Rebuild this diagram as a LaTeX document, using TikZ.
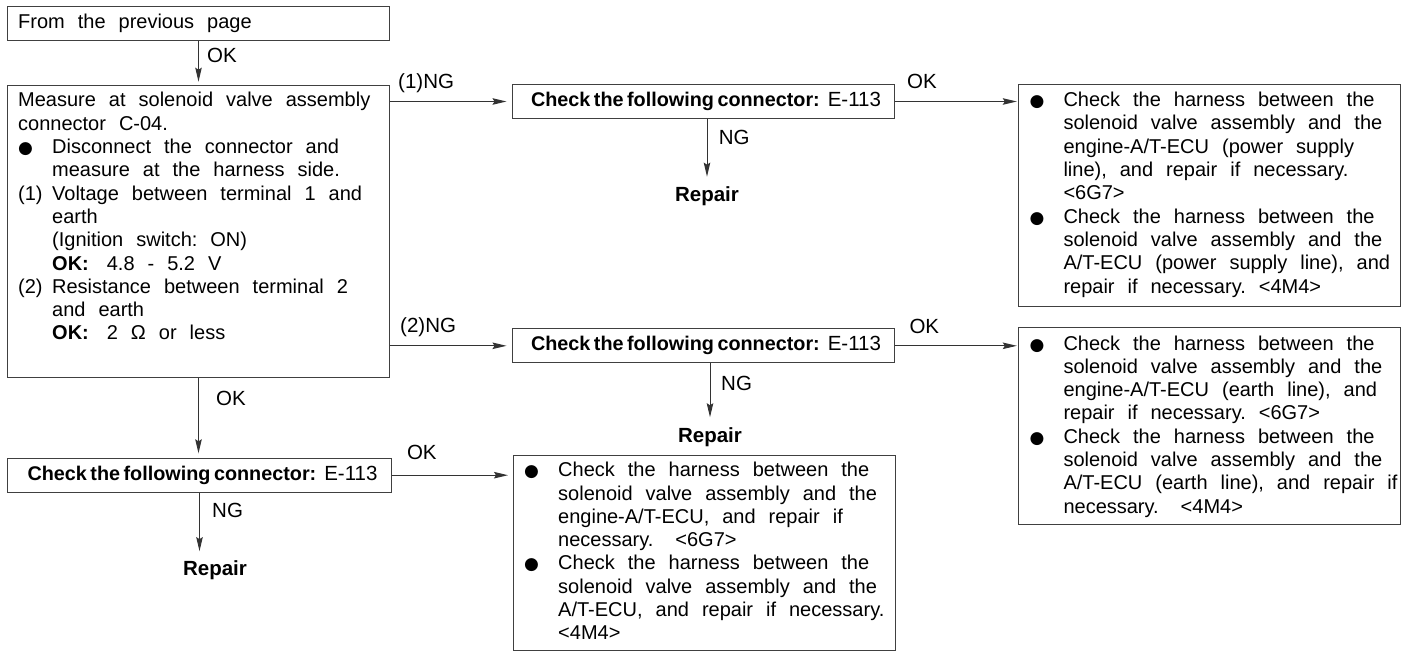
\documentclass[tikz,border=0pt]{standalone}
\usepackage{fontspec}
\setmainfont{Liberation Sans}
\newfontfamily\dejavu{DejaVu Sans}
\usetikzlibrary{arrows.meta,calc}
\newcommand{\bigdot}{{\dejavu\fontsize{17}{17}\selectfont ●}}
\newcommand{\hng}[1]{\makebox[34pt][l]{#1}}
\newcommand{\ind}{\hspace*{34pt}}
\newcommand{\boxtext}[1]{\parbox[t]{420pt}{\fontsize{20}{23.3}\selectfont\spaceskip=13pt\relax\xspaceskip=13pt\relax\raggedright #1}}
\newcommand{\chktext}{\hspace*{6pt}{\fontsize{19.8}{23}\selectfont\bfseries\spaceskip=3.5pt\relax Check the following connector:}\hspace{8pt}E-113}
\begin{document}
\begin{tikzpicture}[x=1pt,y=-1pt,
  box/.style={draw=black!75, line width=1pt, inner sep=0pt, anchor=north west},
  chk/.style={box, minimum width=382pt, minimum height=34pt, font={\fontsize{20.5}{23}\selectfont}},
  txt/.style={anchor=base west, inner sep=0pt},
  lbl/.style={anchor=base west, inner sep=0pt, font={\fontsize{20.5}{23}\selectfont}},
  rep/.style={anchor=base, inner sep=0pt, font={\fontsize{20.5}{24}\selectfont\bfseries}},
  arr/.style={draw=black!80, line width=1pt, -{Stealth[length=14pt,width=6.5pt,inset=2pt]}}]
\useasboundingbox (0,0) rectangle (1403,652);

% boxes
\node[box, minimum width=382pt, minimum height=34pt] (from) at (7,6) {};
\node[txt] (fromT) at ($(from.north west)+(11,23)$) {\boxtext{From the previous page}};

\node[box, minimum width=382pt, minimum height=292pt] (main) at (7,85) {};
\node[txt] (mainT) at ($(main.north west)+(11,22)$) {\boxtext{%
Measure at solenoid valve assembly\\
connector C-04.\\
\hng{\bigdot}Disconnect the connector and\\
\ind measure at the harness side.\\
\hng{(1)}Voltage between terminal 1 and\\
\ind earth\\
\ind (Ignition switch: ON)\\
\ind\textbf{OK:}\hspace{18pt}4.8 - 5.2 V\\
\hng{(2)}Resistance between terminal 2\\
\ind and earth\\
\ind\textbf{OK:}\hspace{18pt}2 Ω or less}};

\node[chk] (chk1) at (511.5,84) {\chktext};
\node[chk] (chk2) at (511.5,328.3) {\chktext};
\node[chk, minimum width=383.4pt] (chk3) at (7.3,457.7) {\chktext};

\node[rep] (rep1) at (707,201.7) {Repair};
\node[rep] (rep2) at (710,442.3) {Repair};
\node[rep] (rep3) at (215,575.7) {Repair};

\node[box, minimum width=381.7pt, minimum height=222pt] (right1) at (1018.3,84) {};
\node[txt] (right1T) at ($(right1.north west)+(11,22.7)$) {\boxtext{%
\hng{\bigdot}Check the harness between the\\
\ind solenoid valve assembly and the\\
\ind engine-A/T-ECU (power supply\\
\ind line), and repair if necessary.\\
\ind <6G7>\\
\hng{\bigdot}Check the harness between the\\
\ind solenoid valve assembly and the\\
\ind A/T-ECU (power supply line), and\\
\ind repair if necessary. <4M4>}};

\node[box, minimum width=381.7pt, minimum height=196.7pt] (right2) at (1018.3,327.3) {};
\node[txt] (right2T) at ($(right2.north west)+(11,22.7)$) {\boxtext{%
\hng{\bigdot}Check the harness between the\\
\ind solenoid valve assembly and the\\
\ind engine-A/T-ECU (earth line), and\\
\ind repair if necessary. <6G7>\\
\hng{\bigdot}Check the harness between the\\
\ind solenoid valve assembly and the\\
\ind A/T-ECU (earth line), and repair if\\
\ind necessary.\hspace{22pt}<4M4>}};

\node[box, minimum width=382pt, minimum height=194.5pt] (bottom) at (513,455) {};
\node[txt] (bottomT) at ($(bottom.north west)+(11,21.7)$) {\boxtext{%
\hng{\bigdot}Check the harness between the\\
\ind solenoid valve assembly and the\\
\ind engine-A/T-ECU, and repair if\\
\ind necessary.\hspace{22pt}<6G7>\\
\hng{\bigdot}Check the harness between the\\
\ind solenoid valve assembly and the\\
\ind A/T-ECU, and repair if necessary.\\
\ind <4M4>}};

% connectors
\draw[arr, shorten >=3.3pt] (from.south) -- (from.south |- main.north);
\draw[arr, shorten >=5pt] (main.east |- chk1.west) -- (chk1.west);
\draw[arr, shorten >=10pt] (chk1.south -| rep1.north) -- (rep1.north);
\draw[arr, shorten >=1.5pt] (chk1.east) -- (chk1.east -| right1.west);
\draw[arr, shorten >=5pt] (main.east |- chk2.west) -- (chk2.west);
\draw[arr, shorten >=10pt] (chk2.south -| rep2.north) -- (rep2.north);
\draw[arr, shorten >=1.5pt] (chk2.east) -- (chk2.east -| right2.west);
\draw[arr, shorten >=4.4pt] (main.south) -- (main.south |- chk3.north);
\draw[arr, shorten >=9.5pt] (chk3.south) -- (chk3.south |- rep3.north);
\draw[arr, shorten >=5pt] (chk3.east) -- (chk3.east -| bottom.west);

% labels
\node[lbl] (l1) at (207,63) {OK};
\node[lbl] (l2) at (398,88.3) {(1)NG};
\node[lbl] (l3) at (718.6,145) {NG};
\node[lbl] (l4) at (907,88.3) {OK};
\node[lbl] (l5) at (400,332.3) {(2)NG};
\node[lbl] (l6) at (721,390) {NG};
\node[lbl] (l7) at (909.3,333.3) {OK};
\node[lbl] (l8) at (216,405) {OK};
\node[lbl] (l9) at (212,517.3) {NG};
\node[lbl] (l10) at (406.8,459) {OK};
\end{tikzpicture}
\end{document}
